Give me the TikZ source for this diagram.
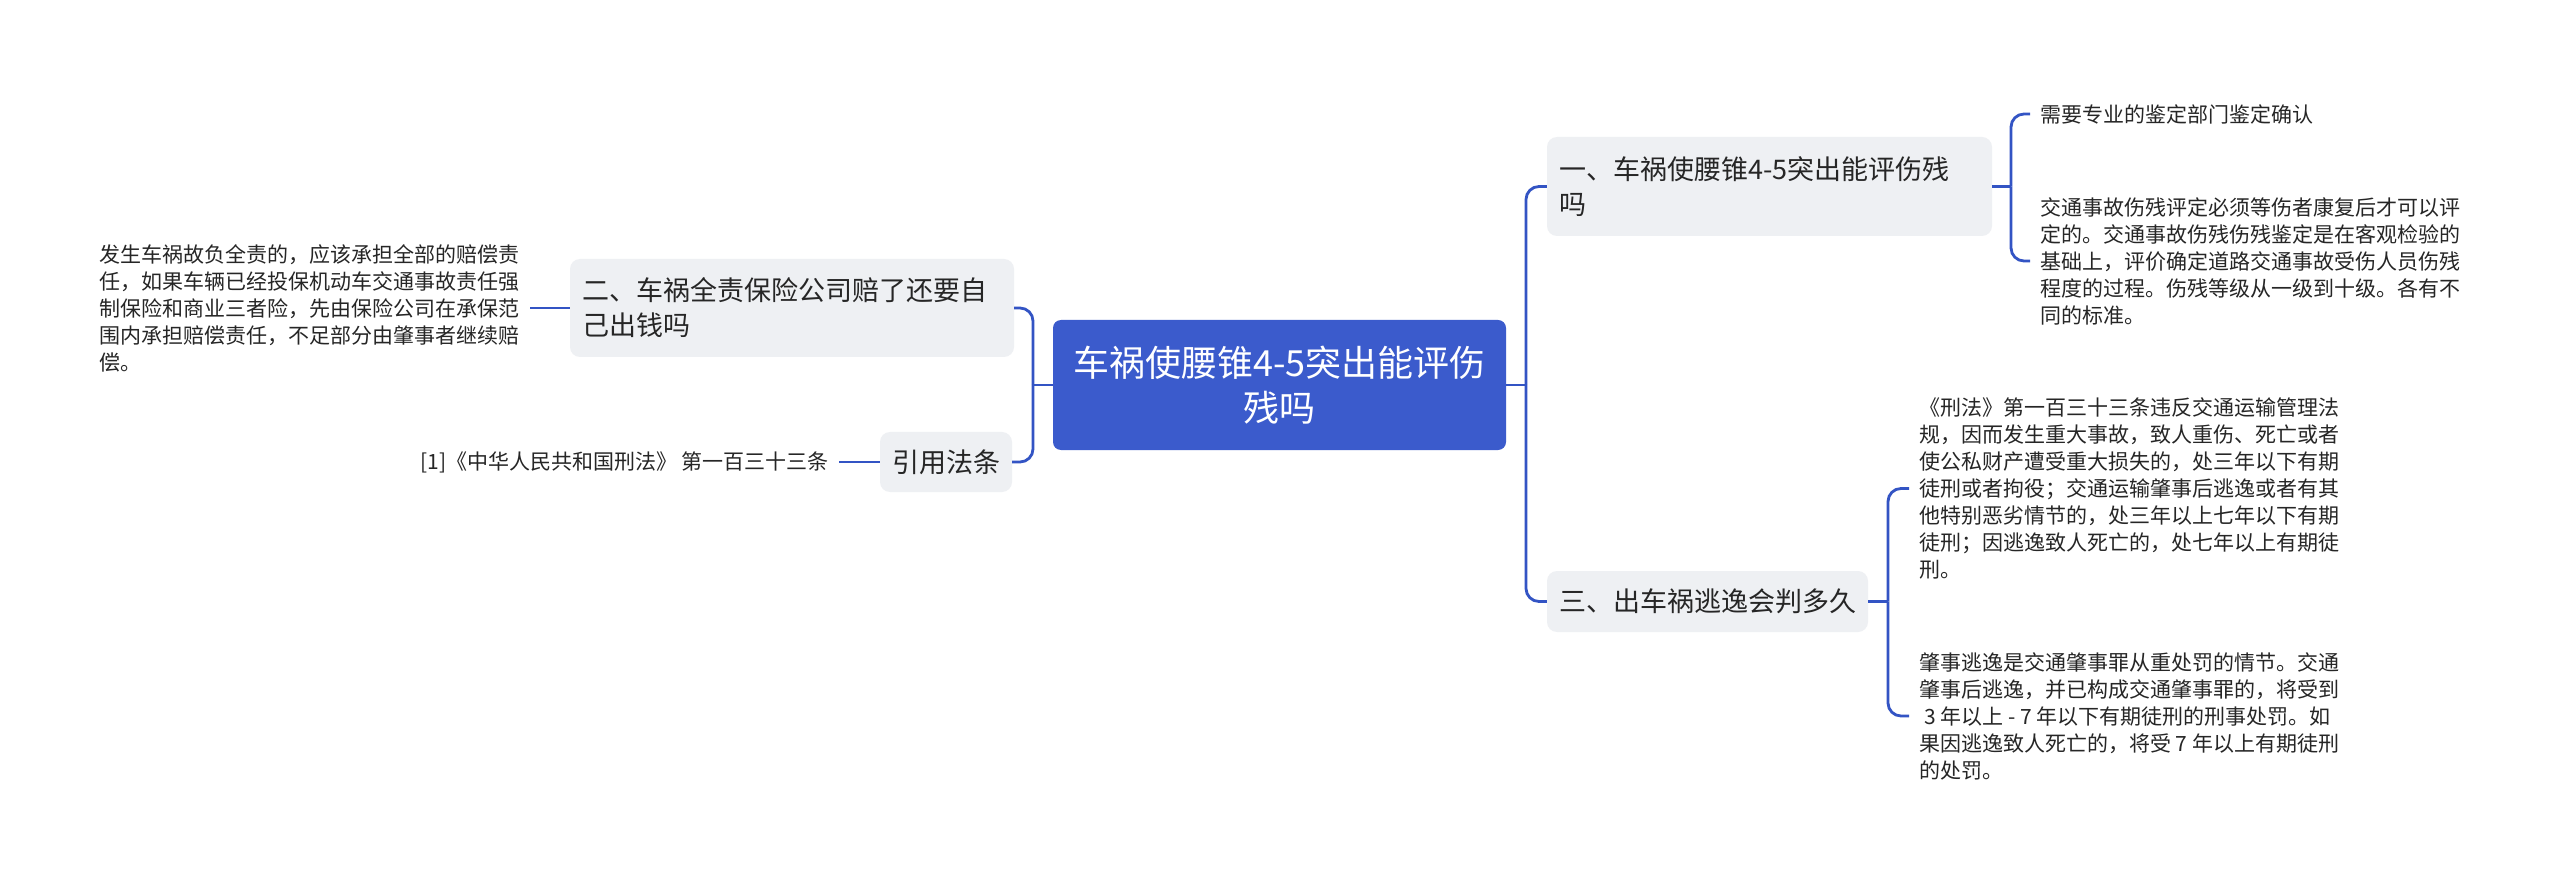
\documentclass[tikz,border=0pt]{standalone}
\usepackage{fontspec}
\setmainfont{Noto Sans CJK SC}
\definecolor{rootblue}{RGB}{59,91,204}
\definecolor{linkblue}{RGB}{51,84,196}
\definecolor{topicgray}{RGB}{238,240,243}
\definecolor{textdark}{RGB}{38,38,38}
\tikzset{
  conn/.style={draw=linkblue, line width=2.8pt, rounded corners=13pt},
  rootbox/.style={fill=rootblue, rounded corners=8pt, text=white, align=center,
    minimum width=453pt, minimum height=130pt, inner sep=0pt,
    font=\fontsize{36}{45}\selectfont},
  topicbox/.style={fill=topicgray, rounded corners=10pt, text=textdark, align=left,
    inner xsep=12pt, inner ysep=0pt, font=\fontsize{27}{35}\selectfont},
  leaf/.style={text=textdark, align=left, inner xsep=10pt, inner ysep=0pt,
    font=\fontsize{21}{27}\selectfont},
}
\begin{document}
\begin{tikzpicture}[x=1pt, y=-1pt]
\fill[white] (0,0) rectangle (2560,882);
\useasboundingbox (0,0) rectangle (2560,882);

\node[rootbox] (root) at (1279.5,385) {车祸使腰锥4-5突出能评伤\\残吗};

\node[topicbox, text width=421pt, minimum height=99pt] (n1) at (1769.5,186.5) {一、车祸使腰锥4-5突出能评伤残\\吗};
\node[topicbox, text width=420pt, minimum height=98pt] (n2) at (792,308) {二、车祸全责保险公司赔了还要自\\己出钱吗};
\node[topicbox, text width=297pt, minimum height=61pt] (n3) at (1707.5,601.5) {三、出车祸逃逸会判多久};
\node[topicbox, text width=108pt, minimum height=60pt] (nref) at (946,462) {引用法条};

\node[leaf, anchor=east] (l2) at (530,308) {发生车祸故负全责的，应该承担全部的赔偿责\\任，如果车辆已经投保机动车交通事故责任强\\制保险和商业三者险，先由保险公司在承保范\\围内承担赔偿责任，不足部分由肇事者继续赔\\偿。};
\node[leaf, anchor=east] (lref) at (839,462) {[1]《中华人民共和国刑法》 第一百三十三条};
\node[leaf, anchor=west] (la) at (2030,114) {需要专业的鉴定部门鉴定确认};
\node[leaf, anchor=west] (lb) at (2030,261) {交通事故伤残评定必须等伤者康复后才可以评\\定的。交通事故伤残伤残鉴定是在客观检验的\\基础上，评价确定道路交通事故受伤人员伤残\\程度的过程。伤残等级从一级到十级。各有不\\同的标准。};
\node[leaf, anchor=west] (lc) at (1909,488.5) {《刑法》第一百三十三条违反交通运输管理法\\规，因而发生重大事故，致人重伤、死亡或者\\使公私财产遭受重大损失的，处三年以下有期\\徒刑或者拘役；交通运输肇事后逃逸或者有其\\他特别恶劣情节的，处三年以上七年以下有期\\徒刑；因逃逸致人死亡的，处七年以上有期徒\\刑。};
\node[leaf, anchor=west] (ld) at (1909,716) {肇事逃逸是交通肇事罪从重处罚的情节。交通\\肇事后逃逸，并已构成交通肇事罪的，将受到\\\hspace*{0.25em}3 年以上 - 7 年以下有期徒刑的刑事处罚。如\\果因逃逸致人死亡的，将受 7 年以上有期徒刑\\的处罚。};

\coordinate (jl) at (1033,385);
\coordinate (jr) at (1526,385);
\coordinate (j1) at (2011,186.5);
\coordinate (j3) at (1888,601.5);

\draw[conn] (root.west) -- (jl);
\draw[conn] (jl) |- (n2.east);
\draw[conn] (jl) |- (nref.east);
\draw[conn] (root.east) -- (jr);
\draw[conn] (jr) |- (n1.west);
\draw[conn] (jr) |- (n3.west);
\draw[conn] (n1.east) -- (j1);
\draw[conn] (j1) |- (la.west);
\draw[conn] (j1) |- (lb.west);
\draw[conn] (n3.east) -- (j3);
\draw[conn] (j3) |- (lc.west);
\draw[conn] (j3) |- (ld.west);
\draw[conn] (n2.west) -- (l2.east);
\draw[conn] (nref.west) -- (lref.east);
\end{tikzpicture}
\end{document}
